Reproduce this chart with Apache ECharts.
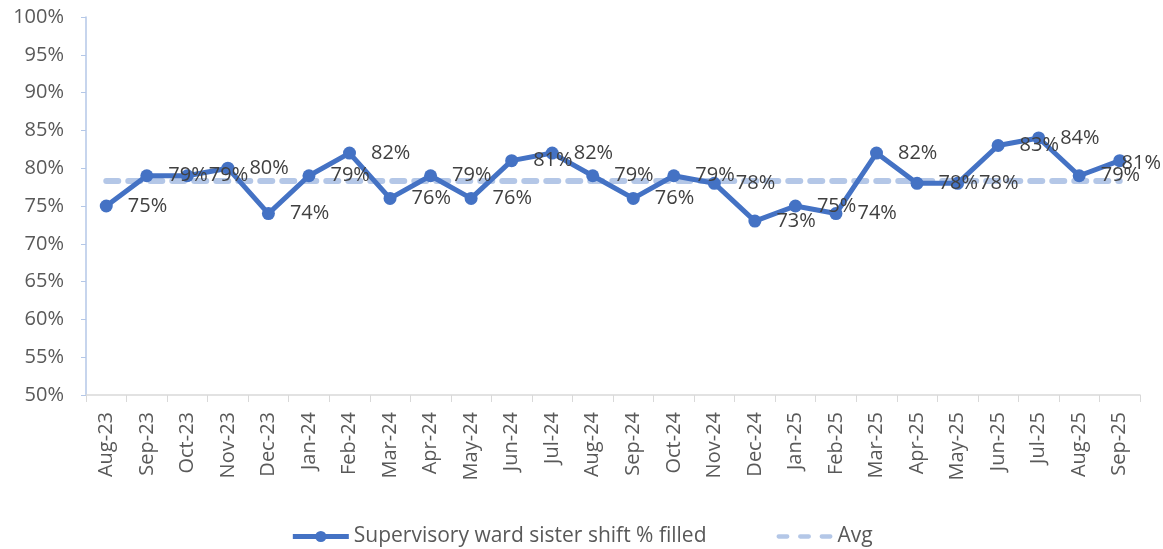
<!DOCTYPE html>
<html>
<head>
<meta charset="utf-8">
<script src="https://cdn.jsdelivr.net/npm/echarts@6/dist/echarts.min.js"></script>
<style>
  html, body { margin: 0; padding: 0; background: #fff; }
  #chart { width: 1163px; height: 549px; }
</style>
</head>
<body>
<div id="chart"></div>
<script>
  // months shown on the x axis
  var months = ['Aug-23', 'Sep-23', 'Oct-23', 'Nov-23', 'Dec-23', 'Jan-24', 'Feb-24', 'Mar-24', 'Apr-24',
    'May-24', 'Jun-24', 'Jul-24', 'Aug-24', 'Sep-24', 'Oct-24', 'Nov-24', 'Dec-24', 'Jan-25', 'Feb-25',
    'Mar-25', 'Apr-25', 'May-25', 'Jun-25', 'Jul-25', 'Aug-25', 'Sep-25'];
  // % of supervisory ward sister shifts filled
  var filled = [75, 79, 79, 80, 74, 79, 82, 76, 79, 76, 81, 82, 79, 76, 79, 78, 73, 75, 74, 82, 78, 78, 83, 84, 79, 81];
  // average line
  var avgValue = 78.3;
  var avg = months.map(function() { return avgValue; });

  var seriesName = 'Supervisory ward sister shift % filled';
  var txtFont = '"Open Sans", sans-serif';
  var chartW = 1163;

  var chart = echarts.init(document.getElementById('chart'));
  chart.setOption({
    backgroundColor: '#fff',
    animation: false,
    grid: { left: 86, right: 23, top: 17, bottom: 154 },
    legend: {
      bottom: -3,
      left: 'center',
      itemWidth: 56,
      itemHeight: 14,
      itemGap: 70,
      textStyle: { fontFamily: txtFont, fontSize: 21, color: '#595959' },
      data: [
        { name: seriesName, lineStyle: { width: 5 } },
        {
          name: 'Avg',
          icon: 'path://M2,0h8a2,2 0 0 1 0,4h-8a2,2 0 0 1 0,-4z M22,0h8a2,2 0 0 1 0,4h-8a2,2 0 0 1 0,-4z M42,0h8a2,2 0 0 1 0,4h-8a2,2 0 0 1 0,-4z',
          itemStyle: { color: '#b4c7e7' }
        }
      ]
    },
    xAxis: {
      type: 'category',
      data: months,
      boundaryGap: true,
      axisLine: { lineStyle: { color: '#d9d9d9', width: 1.5 } },
      axisTick: { show: true, length: 7, lineStyle: { color: '#d9d9d9' } },
      axisLabel: {
        rotate: 90,
        interval: 0,
        margin: 17,
        fontFamily: txtFont,
        fontSize: 20,
        color: '#595959'
      }
    },
    yAxis: {
      type: 'value',
      min: 50,
      max: 100,
      interval: 5,
      axisLine: { show: true, lineStyle: { color: '#b4c7e7', width: 1.5 } },
      axisTick: { show: true, length: 5, lineStyle: { color: '#b4c7e7' } },
      splitLine: { show: false },
      axisLabel: {
        margin: 22,
        fontFamily: txtFont,
        fontSize: 20,
        color: '#595959',
        formatter: '{value}%'
      }
    },
    series: [
      {
        name: 'Avg',
        type: 'line',
        data: avg,
        symbol: 'none',
        z: 2,
        lineStyle: { color: '#b4c7e7', width: 6, type: [12, 10], cap: 'round' },
        itemStyle: { color: '#b4c7e7' }
      },
      {
        name: seriesName,
        type: 'line',
        data: filled,
        symbol: 'circle',
        symbolSize: 13,
        z: 3,
        lineStyle: { color: '#4472c4', width: 5 },
        itemStyle: { color: '#4472c4' },
        label: {
          show: true,
          position: 'right',
          distance: 15,
          fontFamily: txtFont,
          fontSize: 20,
          color: '#404040',
          formatter: '{c}%'
        },
        // keep the last label inside the picture, like the original does
        labelLayout: function(params) {
          var r = params.labelRect;
          var over = r.x + r.width - (chartW - 2);
          if (over > 0) {
            return { dx: -over, dy: 3 };
          }
          return {};
        }
      }
    ]
  });
</script>
</body>
</html>
